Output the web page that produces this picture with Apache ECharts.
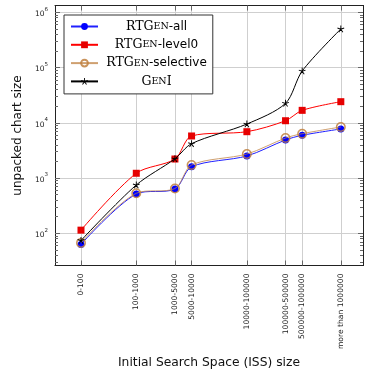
<!DOCTYPE html>
<html><head><meta charset="utf-8">
<script src="https://cdn.jsdelivr.net/npm/echarts@6/dist/echarts.min.js"></script>
<style>html,body{margin:0;padding:0;background:#fff}#c{width:365px;height:380px}</style>
</head><body><div id="c"></div>
<script>
// ---- data ----
const categories = ['0-100','100-1000','1000-5000','5000-10000','10000-100000','100000-500000','500000-1000000','more than 1000000'];
const xPositions = [100, 1000, 5000, 10000, 100000, 500000, 1000000, 5000000];
const rtgenAll       = [63, 514, 632, 1600, 2510, 4890, 5940, 7730];
const rtgenLevel0    = [114, 1220, 2210, 5770, 6900, 10900, 16800, 24100];
const rtgenSelective = [67, 530, 645, 1720, 2720, 5300, 6350, 8400];
const genI           = [74, 749, 2230, 4190, 9500, 22500, 86500, 499000];
const yTickValues = [100, 1000, 10000, 100000, 1000000];
const seriesNames = ['RTGen-all', 'RTGen-level0', 'RTGen-selective', 'GenI'];
const xTitle = 'Initial Search Space (ISS) size';
const yTitle = 'unpacked chart size';

// ---- scale bounds ----
const xMin = Math.pow(10, 1.53), xMax = Math.pow(10, 7.10);
const yMin = Math.pow(10, 1.417), yMax = Math.pow(10, 6.123);

const yMinorTicks = [];
for (let k = 1; k <= 6; k++) for (let m = 2; m <= 9; m++) {
  const v = m * Math.pow(10, k);
  if (v > yMin && v < yMax) yMinorTicks.push(v);
}

function zip(vals) { return xPositions.map((x, i) => [x, vals[i]]); }
function catLabel(v) {
  let best = 0, bd = Infinity;
  xPositions.forEach((p, i) => { const d = Math.abs(Math.log10(p) - Math.log10(v)); if (d < bd) { bd = d; best = i; } });
  return categories[best];
}

// asterisk symbol path
function asteriskPath() {
  const w = 0.13; let d = '';
  for (let k = 0; k < 5; k++) {
    const a = (-90 + 72 * k) * Math.PI / 180;
    const ux = Math.cos(a), uy = Math.sin(a), px = -uy * w, py = ux * w;
    const pts = [[px, py], [ux + px, uy + py], [ux - px, uy - py], [-px, -py]];
    d += 'M' + pts.map(p => (p[0] * 10 + 10).toFixed(3) + ' ' + (p[1] * 10 + 10).toFixed(3)).join(' L') + ' Z ';
  }
  return 'path://' + d;
}

const axisColor = '#222';
const gridColor = '#cfcfcf';
const sup = {b: {fontSize: 7.5, fontFamily: 'DejaVu Sans', color: '#222', lineHeight: 12, verticalAlign: 'bottom'},
             s: {fontSize: 5.5, fontFamily: 'DejaVu Sans', color: '#222', lineHeight: 12, verticalAlign: 'top'}};

function yAx(pos, minor, labels) {
  return {
    type: 'log', logBase: 10, min: yMin, max: yMax, position: pos,
    name: labels ? yTitle : '', nameLocation: 'middle', nameGap: 30,
    nameTextStyle: {fontFamily: 'DejaVu Sans', fontSize: 12, color: '#111'},
    axisLine: {show: true, onZero: false, lineStyle: {color: axisColor, width: 1}},
    axisTick: {show: true, inside: true, length: minor ? 3 : 5, customValues: minor ? yMinorTicks : yTickValues,
               lineStyle: {color: '#666', width: 1}},
    axisLabel: labels ? {show: true, customValues: yTickValues, margin: 7,
      formatter: v => '{b|10}{s|' + Math.round(Math.log10(v)) + '}', rich: sup} : {show: false},
    splitLine: {show: !minor && labels, lineStyle: {color: gridColor, width: 1}},
    minorTick: {show: false}, minorSplitLine: {show: false}
  };
}
function xAx(pos, labels) {
  return {
    type: 'log', logBase: 10, min: xMin, max: xMax, position: pos,
    name: labels ? xTitle : '', nameLocation: 'middle', nameGap: 91,
    nameTextStyle: {fontFamily: 'DejaVu Sans', fontSize: 12.3, color: '#111'},
    axisLine: {show: true, onZero: false, lineStyle: {color: axisColor, width: 1}},
    axisTick: {show: true, inside: true, length: 5, customValues: xPositions, lineStyle: {color: '#666', width: 1}},
    axisLabel: labels ? {show: true, customValues: xPositions, rotate: 90, margin: 8,
      fontFamily: 'DejaVu Sans', fontSize: 7.6, color: '#1a1a1a', formatter: v => catLabel(v)} : {show: false},
    splitLine: {show: labels, lineStyle: {color: gridColor, width: 1}},
    minorTick: {show: false}
  };
}

const legendRich = {
  r: {fontFamily: 'DejaVu Serif', fontSize: 12.5, color: '#000', align: 'center', lineHeight: 14},
  c: {fontFamily: 'DejaVu Serif', fontSize: 9.5, color: '#000', align: 'center', lineHeight: 14},
  t: {fontFamily: 'DejaVu Sans', fontSize: 12, color: '#000', align: 'center', lineHeight: 14}
};
function legendFmt(name) {
  if (name === 'GenI') return '{r|G}{c|EN}{r|I}';
  return '{r|RTG}{c|EN}{t|' + name.slice(5) + '}';
}

const chart = echarts.init(document.getElementById('c'), null, {renderer: 'canvas'});
chart.setOption({
  animation: false,
  backgroundColor: '#fff',
  grid: {left: 55, right: 2, top: 5.5, bottom: 114.5, containLabel: false, outerBoundsMode: 'none'},
  xAxis: [xAx('bottom', true), xAx('top', false)],
  yAxis: [yAx('left', false, true), yAx('left', true, false), yAx('right', false, false), yAx('right', true, false)],
  legend: {
    left: 64, top: 15, orient: 'vertical', itemWidth: 27, itemHeight: 8.5, itemGap: 5.3,
    padding: [5, 6, 6, 6], backgroundColor: '#fff', borderColor: '#333', borderWidth: 1, borderRadius: 0,
    data: seriesNames, formatter: legendFmt,
    textStyle: {width: 107, rich: legendRich}
  },
  series: [
    {name: seriesNames[0], type: 'line', data: zip(rtgenAll), smooth: 0.3, z: 2,
     symbol: 'circle', symbolSize: 7, color: '#0000ff', lineStyle: {width: 1, color: '#2020ff'}, itemStyle: {color: '#0000ff'}},
    {name: seriesNames[1], type: 'line', data: zip(rtgenLevel0), smooth: 0.3, z: 3,
     symbol: 'rect', symbolSize: 7, color: '#ee0000', lineStyle: {width: 1, color: '#ff0000'}, itemStyle: {color: '#e60000'}},
    {name: seriesNames[2], type: 'line', data: zip(rtgenSelective), smooth: 0.3, z: 4,
     symbol: 'circle', symbolSize: 8.5, color: '#bf8040',
     lineStyle: {width: 1, color: 'rgba(191,128,64,0.75)'},
     itemStyle: {color: 'rgba(0,0,0,0)', borderColor: 'rgba(191,128,64,0.85)', borderWidth: 1.5}},
    {name: seriesNames[3], type: 'line', data: zip(genI), smooth: 0.3, z: 5,
     symbol: asteriskPath(), symbolSize: 7, color: '#000', lineStyle: {width: 1, color: '#000'}, itemStyle: {color: '#000'}}
  ]
});
</script></body></html>
